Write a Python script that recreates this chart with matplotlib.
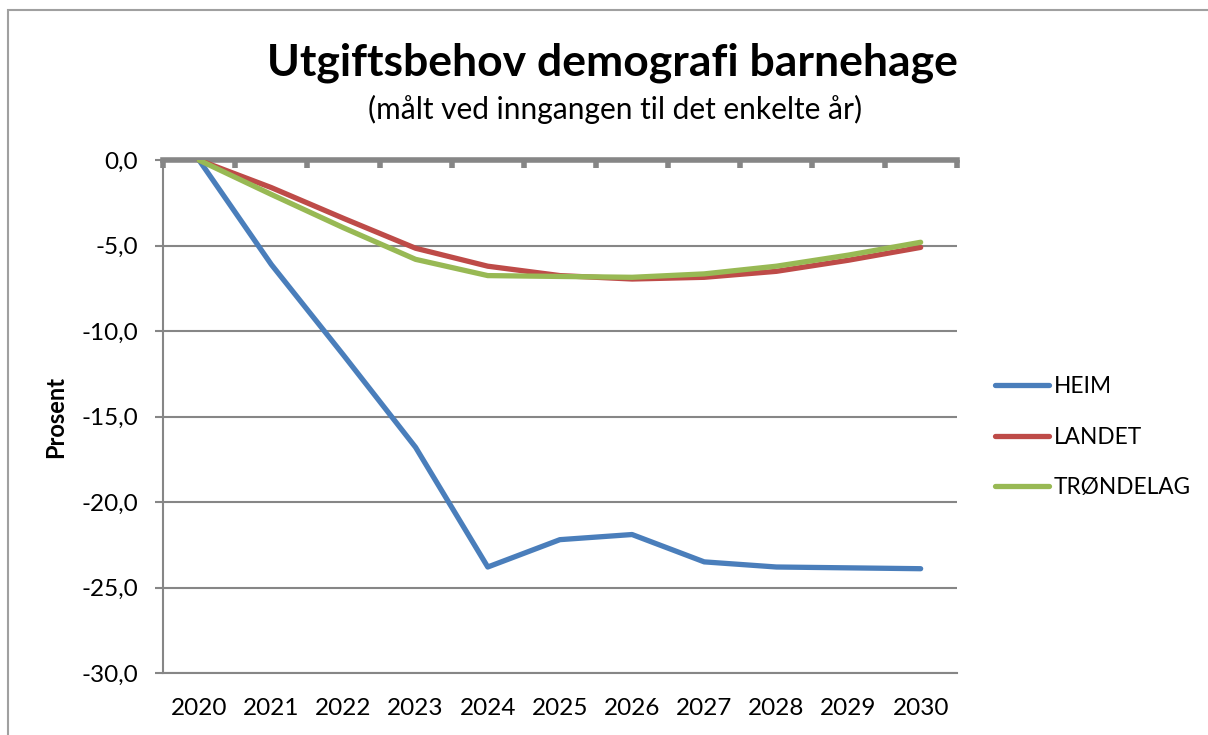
import matplotlib
matplotlib.use("Agg")
import matplotlib.pyplot as plt
from matplotlib.ticker import FixedLocator, FuncFormatter
from matplotlib.patches import Rectangle

plt.rcParams['font.family'] = ['Lato', 'DejaVu Sans']

years = ['2020', '2021', '2022', '2023', '2024', '2025',
         '2026', '2027', '2028', '2029', '2030']
heim = [0.0, -6.1, -11.4, -16.8, -23.8, -22.2, -21.9, -23.5, -23.8, -23.85, -23.9]
landet = [0.0, -1.6, -3.4, -5.15, -6.2, -6.75, -6.95, -6.85, -6.5, -5.85, -5.1]
trondelag = [0.0, -2.0, -3.95, -5.8, -6.75, -6.8, -6.85, -6.65, -6.2, -5.55, -4.8]

series = [('HEIM', heim, '#4A7EBB'),
          ('LANDET', landet, '#BE4B48'),
          ('TRØNDELAG', trondelag, '#98B954')]

grey = '#868686'

fig = plt.figure(figsize=(12.08, 7.35), dpi=100)
# chart frame (right and bottom edges are cut off in the original)
fig.patches.append(Rectangle((0.0066, -0.1), 1.2, 1.087, transform=fig.transFigure,
                             fill=False, edgecolor='#a0a0a0', linewidth=1.5))

ax = fig.add_axes([0.135, 0.0844, 0.657, 0.6976])
x = list(range(len(years)))
for name, vals, col in series:
    ax.plot(x, vals, color=col, linewidth=3.8, label=name, solid_capstyle='round',
            solid_joinstyle='round', zorder=3)

ax.set_xlim(-0.5, len(years) - 0.5)
ax.set_ylim(-30, 0)
ax.set_yticks(range(-30, 1, 5))
ax.yaxis.set_major_formatter(FuncFormatter(lambda v, p: f"{v:.1f}".replace('.', ',')))
ax.grid(axis='y', color=grey, linewidth=1.5, zorder=1)

# x axis line sits at 0 (top of plot), labels below
ax.set_xticks(x)
ax.set_xticklabels(years)
ax.xaxis.set_minor_locator(FixedLocator([i - 0.5 for i in range(len(years) + 1)]))
ax.tick_params(axis='x', which='major', length=0, pad=18, labelsize=17.5)
ax.tick_params(axis='x', which='minor', top=True, bottom=False, direction='in',
               length=6, width=4, color=grey)
ax.tick_params(axis='y', length=6, width=1.5, color=grey, pad=12, labelsize=17.5)

ax.spines['right'].set_visible(False)
ax.spines['top'].set_color(grey)
ax.spines['top'].set_linewidth(4)
ax.spines['top'].set_zorder(2)
ax.spines['left'].set_color(grey)
ax.spines['left'].set_linewidth(1.5)
ax.spines['bottom'].set_color(grey)
ax.spines['bottom'].set_linewidth(1.5)

ax.set_ylabel('Prosent', fontsize=17, fontweight='bold', labelpad=10)

fig.text(0.507, 0.915, 'Utgiftsbehov demografi barnehage', ha='center', va='center',
         fontsize=32, fontweight='bold')
fig.text(0.509, 0.851, '(målt ved inngangen til det enkelte år)', ha='center',
         va='center', fontsize=21.5)

ax.legend(loc='center left', bbox_to_anchor=(1.022, 0.46), frameon=False, fontsize=16.3,
          handlelength=2.4, handletextpad=0.2, labelspacing=1.3)

fig.savefig('out.png', dpi=100)
